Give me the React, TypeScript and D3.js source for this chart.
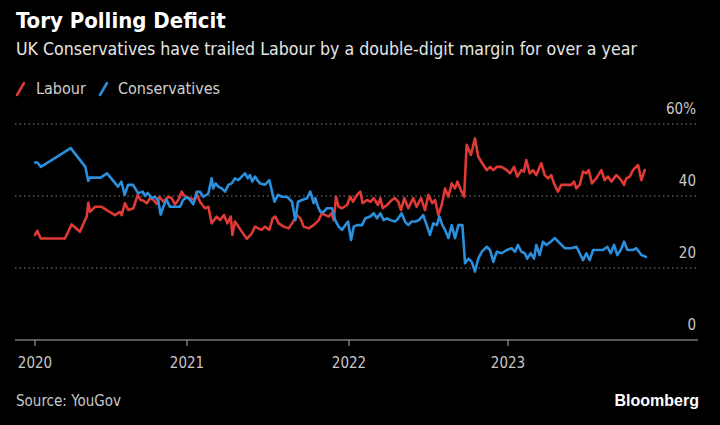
import React from "react";
import * as d3 from "d3";

// Decimal-year timestamps and vote-share values (%)
const labourT = [2020.0,2020.015,2020.038,2020.197,2020.241,2020.296,2020.34,2020.351,2020.362,2020.395,2020.439,2020.472,2020.526,2020.559,2020.57,2020.592,2020.614,2020.647,2020.676,2020.695,2020.713,2020.735,2020.757,2020.778,2020.801,2020.818,2020.844,2020.877,2020.899,2020.921,2020.943,2020.965,2020.987,2021.019,2021.049,2021.06,2021.08,2021.111,2021.132,2021.152,2021.183,2021.204,2021.228,2021.249,2021.27,2021.28,2021.296,2021.317,2021.338,2021.369,2021.4,2021.42,2021.44,2021.461,2021.481,2021.508,2021.529,2021.545,2021.566,2021.597,2021.628,2021.648,2021.679,2021.7,2021.72,2021.751,2021.782,2021.813,2021.833,2021.854,2021.875,2021.891,2021.906,2021.92,2021.936,2021.957,2021.988,2022.008,2022.025,2022.05,2022.071,2022.086,2022.113,2022.134,2022.155,2022.182,2022.197,2022.212,2022.239,2022.27,2022.289,2022.31,2022.327,2022.348,2022.373,2022.404,2022.425,2022.453,2022.478,2022.499,2022.524,2022.541,2022.562,2022.583,2022.604,2022.625,2022.646,2022.667,2022.682,2022.703,2022.724,2022.74,2022.767,2022.792,2022.813,2022.845,2022.866,2022.887,2022.908,2022.929,2022.96,2022.992,2023.013,2023.038,2023.059,2023.084,2023.101,2023.115,2023.137,2023.157,2023.178,2023.209,2023.231,2023.252,2023.272,2023.289,2023.314,2023.335,2023.367,2023.398,2023.415,2023.43,2023.451,2023.472,2023.493,2023.508,2023.528,2023.555,2023.587,2023.608,2023.629,2023.65,2023.681,2023.703,2023.73,2023.744,2023.766,2023.786,2023.818,2023.839,2023.86];
const labourV = [29.2,30.3,28.2,28.2,32.1,30.1,34.3,38.1,35.6,37.0,37.0,36.1,34.7,35.6,34.7,38.0,36.1,36.6,40.3,38.9,38.7,38.0,39.4,38.9,37.8,39.8,38.4,39.8,39.4,37.7,38.9,41.2,39.8,39.4,38.9,40.7,38.4,36.6,37.0,32.4,34.3,33.3,34.7,32.4,34.3,29.2,32.9,31.5,30.1,28.1,29.6,31.5,31.0,30.6,31.5,30.6,33.8,34.3,32.4,31.5,31.0,32.4,34.7,33.8,31.5,31.0,31.9,33.3,35.2,34.7,34.3,35.2,33.3,39.8,37.0,36.6,37.5,39.8,38.4,40.3,41.2,38.0,38.9,38.4,39.4,37.5,39.4,36.6,37.5,38.9,39.4,38.4,36.1,39.4,36.6,39.4,37.0,39.4,36.1,40.3,38.0,38.9,34.7,37.5,42.1,39.8,43.5,42.1,44.0,41.7,39.8,54.2,51.4,56.0,50.9,48.6,47.2,48.1,47.2,48.1,48.1,47.2,46.3,48.1,45.4,47.2,46.8,50.0,46.3,47.2,45.8,49.1,45.8,44.9,45.8,43.5,41.2,43.1,43.1,43.1,44.0,42.1,43.1,46.8,46.3,47.2,43.5,44.9,47.2,44.4,45.4,44.0,45.8,44.9,43.1,44.9,45.4,47.2,48.6,44.4,47.2];

const conT = [2020.0,2020.015,2020.039,2020.235,2020.331,2020.35,2020.36,2020.432,2020.474,2020.546,2020.568,2020.59,2020.612,2020.645,2020.678,2020.709,2020.724,2020.741,2020.768,2020.789,2020.811,2020.827,2020.844,2020.865,2020.888,2020.921,2020.954,2020.974,2021.0,2021.019,2021.039,2021.06,2021.08,2021.101,2021.132,2021.152,2021.162,2021.177,2021.193,2021.214,2021.235,2021.255,2021.276,2021.296,2021.317,2021.338,2021.358,2021.375,2021.389,2021.403,2021.42,2021.434,2021.451,2021.481,2021.508,2021.54,2021.562,2021.586,2021.617,2021.648,2021.669,2021.685,2021.71,2021.741,2021.761,2021.782,2021.792,2021.809,2021.823,2021.844,2021.864,2021.895,2021.915,2021.936,2021.957,2021.977,2021.994,2022.013,2022.03,2022.05,2022.082,2022.103,2022.134,2022.155,2022.176,2022.197,2022.218,2022.239,2022.26,2022.289,2022.31,2022.331,2022.352,2022.373,2022.394,2022.419,2022.44,2022.467,2022.489,2022.509,2022.53,2022.552,2022.568,2022.587,2022.604,2022.625,2022.646,2022.667,2022.688,2022.713,2022.73,2022.751,2022.772,2022.792,2022.813,2022.835,2022.866,2022.887,2022.908,2022.929,2022.96,2022.992,2023.023,2023.044,2023.063,2023.084,2023.105,2023.121,2023.143,2023.164,2023.178,2023.199,2023.22,2023.241,2023.269,2023.294,2023.325,2023.357,2023.395,2023.43,2023.451,2023.472,2023.493,2023.514,2023.535,2023.566,2023.597,2023.625,2023.646,2023.667,2023.688,2023.709,2023.73,2023.751,2023.786,2023.807,2023.839,2023.868];
const conV = [49.3,49.3,48.1,53.3,48.1,44.2,45.1,45.1,46.3,42.6,44.0,40.3,43.1,43.1,40.8,41.2,40.0,40.9,39.4,39.8,38.7,34.8,37.0,38.9,37.0,37.0,37.0,38.9,39.7,38.9,37.7,41.2,41.2,39.8,40.7,44.9,42.1,43.5,42.6,42.1,41.2,43.1,43.5,44.9,44.4,45.4,46.3,44.9,45.8,44.0,45.4,44.4,43.5,43.1,44.4,38.4,40.3,39.8,39.8,38.4,33.3,38.4,38.9,39.4,41.2,38.0,39.4,37.0,35.6,35.6,36.6,36.6,33.3,31.5,30.6,31.9,32.9,27.8,31.5,31.9,31.9,33.8,34.3,35.2,33.8,35.2,33.3,33.8,33.3,32.9,33.8,35.2,32.9,31.9,32.9,32.9,33.3,34.7,31.9,29.2,32.4,31.9,34.3,31.9,30.6,28.3,31.9,28.3,31.9,31.9,21.3,22.6,21.7,19.0,22.6,24.5,25.9,25.0,21.7,24.5,24.1,25.0,25.5,24.5,26.4,24.5,24.1,22.6,24.1,22.6,26.4,23.6,27.3,26.4,27.3,28.3,26.9,25.5,25.5,25.9,24.1,22.2,24.1,22.2,25.0,25.0,25.0,25.9,24.1,26.4,23.6,25.0,27.3,25.0,25.0,25.5,23.6,23.1];

const xTickYears = [2020, 2021, 2022, 2023];
const yTicks = [0, 20, 40, 60];
const seriesNames = ["Labour", "Conservatives"];
const seriesColors = ["#e03a36", "#2a8fdc"];

const W = 720;
const H = 425;
const FONT = "'Liberation Sans Narrow', 'DejaVu Sans Condensed', 'Liberation Sans', sans-serif";

export default function App() {
  const x = d3.scaleLinear().domain([2020, 2021, 2022, 2023, 2024]).range([35, 187, 349, 508, 667]);
  const y = d3.scaleLinear().domain([0, 60]).range([340, 124]);
  const line = d3
    .line<[number, number]>()
    .x((d) => x(d[0]))
    .y((d) => y(d[1]));
  const labourPath = line(labourT.map((t, i) => [t, labourV[i]] as [number, number])) || "";
  const conPath = line(conT.map((t, i) => [t, conV[i]] as [number, number])) || "";
  const gridLeft = 15;
  const gridRight = 696;

  return (
    <svg width={W} height={H} style={{ position: "absolute", left: 0, top: 0, display: "block" }} fontFamily={FONT}>
      <rect x={0} y={0} width={W} height={H} fill="#000" />
      <text x={16} y={28} fill="#fff" fontSize={22} fontWeight="bold">Tory Polling Deficit</text>
      <text x={16} y={55} fill="#e6e6e6" fontSize={17.6}>UK Conservatives have trailed Labour by a double-digit margin for over a year</text>

      {/* legend */}
      <g>
        <line x1={17} y1={95} x2={24} y2={83} stroke={seriesColors[0]} strokeWidth={2.5} strokeLinecap="round" />
        <text x={36} y={94} fill="#d0d0d0" fontSize={16}>{seriesNames[0]}</text>
        <line x1={100} y1={95} x2={107} y2={83} stroke={seriesColors[1]} strokeWidth={2.5} strokeLinecap="round" />
        <text x={118} y={94} fill="#d0d0d0" fontSize={16}>{seriesNames[1]}</text>
      </g>

      {/* gridlines and y labels */}
      {yTicks.map((v) => (
        <g key={v}>
          {v > 0 && (
            <line x1={gridLeft} x2={gridRight} y1={y(v)} y2={y(v)} stroke="#808080" strokeWidth={1} strokeDasharray="1.5 3" />
          )}
          <text x={696} y={y(v) - 10} fill="#c8c8c8" fontSize={15} textAnchor="end">
            {v}
            {v === 60 ? <tspan>%</tspan> : null}
          </text>
        </g>
      ))}

      {/* x axis */}
      <line x1={gridLeft} x2={698} y1={y(0)} y2={y(0)} stroke="#b0b0b0" strokeWidth={1} />
      {xTickYears.map((yr) => (
        <g key={yr}>
          <line x1={x(yr)} x2={x(yr)} y1={y(0)} y2={y(0) + 6} stroke="#b0b0b0" strokeWidth={1} />
          <text x={x(yr)} y={368} fill="#c8c8c8" fontSize={15} textAnchor="middle">{yr}</text>
        </g>
      ))}

      <path d={labourPath} fill="none" stroke={seriesColors[0]} strokeWidth={2.6} strokeLinejoin="round" strokeLinecap="round" />
      <path d={conPath} fill="none" stroke={seriesColors[1]} strokeWidth={2.6} strokeLinejoin="round" strokeLinecap="round" />

      <text x={16} y={406} fill="#c8c8c8" fontSize={15}>Source: YouGov</text>
      <text x={699} y={406} fill="#fff" fontSize={16} fontWeight="bold" textAnchor="end" fontFamily="'Liberation Sans', sans-serif">Bloomberg</text>
    </svg>
  );
}
